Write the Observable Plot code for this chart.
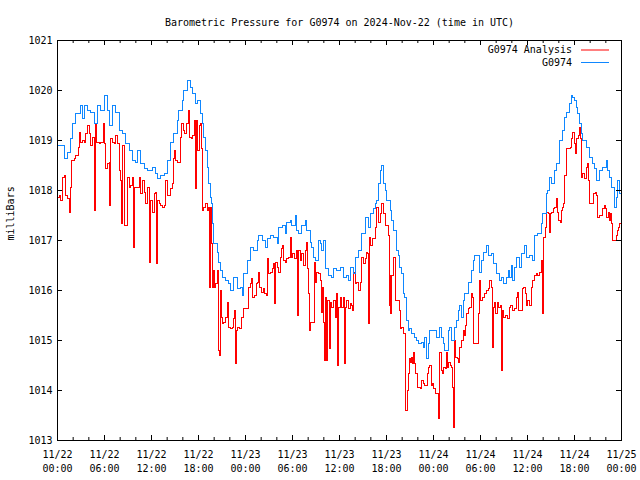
<!DOCTYPE html>
<html><head><meta charset="utf-8">
<script src="https://cdn.jsdelivr.net/npm/d3@7"></script>
<script src="https://cdn.jsdelivr.net/npm/@observablehq/plot@0.6"></script>
<style>
html,body{margin:0;padding:0;background:#fff;}
#chart svg{display:block;}
</style></head><body><div id="chart"></div>
<script>
const titleText = "Barometric Pressure for G0974 on 2024-Nov-22 (time in UTC)";
const yLabelText = "milliBars";
const seriesNames = ["G0974 Analysis", "G0974"];
const startISO = "2024-11-22T00:00:00Z";
const endISO = "2024-11-25T00:00:00Z";
const yTickValues = [1013, 1014, 1015, 1016, 1017, 1018, 1019, 1020, 1021];

// [hours since 2024-11-22 00:00 UTC, milliBars]
const analysis = [[0,1017.86],[0.22,1017.90],[0.42,1017.80],[0.64,1018.26],[0.86,1018.30],[1.06,1017.90],[1.28,1017.84],[1.49,1017.56],[1.62,1018.06],[1.79,1018.60],[2.13,1018.64],[2.34,1018.70],[2.68,1018.86],[2.77,1019.16],[2.97,1018.96],[3.19,1019.00],[3.41,1018.96],[3.61,1019.14],[3.83,1019.30],[4.05,1019.14],[4.25,1018.90],[4.47,1019.06],[4.69,1017.60],[4.81,1019.34],[5.02,1018.96],[5.32,1018.94],[5.53,1018.96],[5.83,1019.34],[5.96,1018.94],[6.17,1018.44],[6.38,1018.54],[6.60,1018.56],[6.68,1017.70],[6.80,1019.04],[7.02,1018.96],[7.24,1018.94],[7.44,1019.10],[7.66,1018.94],[7.88,1018.40],[8.08,1018.20],[8.21,1017.34],[8.30,1018.90],[8.51,1017.30],[8.81,1017.30],[8.94,1018.26],[9.15,1018.06],[9.36,1018.10],[9.57,1018.26],[9.74,1016.86],[9.87,1018.06],[10.21,1018.06],[10.43,1018.26],[10.63,1017.94],[10.85,1018.20],[11.07,1017.96],[11.27,1017.74],[11.49,1018.06],[11.71,1017.90],[11.78,1016.56],[11.91,1017.80],[12.13,1017.56],[12.34,1017.94],[12.55,1017.96],[12.68,1016.54],[12.77,1017.80],[12.98,1017.74],[13.19,1017.70],[13.40,1017.66],[13.62,1017.70],[13.83,1018.20],[14.04,1017.90],[14.26,1017.90],[14.43,1018.04],[14.64,1018.14],[14.77,1018.64],[14.94,1018.80],[15.06,1018.60],[15.28,1018.56],[15.49,1018.56],[15.70,1019.06],[15.83,1019.34],[16.05,1019.20],[16.25,1019.14],[16.47,1019.34],[16.69,1019.60],[16.85,1019.06],[17.07,1019.04],[17.27,1019.10],[17.49,1019.40],[17.62,1018.04],[17.74,1019.40],[17.87,1018.80],[18.09,1019.30],[18.26,1019.34],[18.38,1018.84],[18.47,1017.60],[18.68,1017.66],[18.89,1017.74],[19.11,1017.60],[19.32,1017.66],[19.44,1016.06],[19.53,1017.66],[19.62,1016.94],[19.75,1016.06],[19.88,1016.40],[20.00,1016.06],[20.17,1016.14],[20.39,1016.40],[20.51,1014.80],[20.68,1014.70],[20.81,1016.00],[20.94,1015.46],[21.03,1015.34],[21.23,1015.36],[21.45,1015.46],[21.66,1015.76],[21.87,1015.26],[22.09,1015.24],[22.30,1015.26],[22.51,1015.44],[22.63,1015.60],[22.72,1014.54],[22.85,1015.20],[23.02,1015.26],[23.23,1015.24],[23.45,1015.46],[23.71,1015.64],[24.22,1015.64],[24.42,1016.06],[24.64,1016.14],[24.77,1016.24],[24.89,1015.86],[25.15,1015.90],[25.40,1016.14],[25.57,1016.16],[25.70,1016.36],[25.83,1016.06],[26.00,1015.96],[26.26,1016.04],[26.43,1015.94],[26.68,1015.90],[26.77,1016.64],[26.97,1016.34],[27.19,1016.36],[27.41,1016.44],[27.61,1016.54],[27.74,1015.74],[27.87,1016.56],[28.05,1016.46],[28.25,1016.36],[28.47,1016.66],[28.60,1016.84],[28.76,1016.90],[28.89,1016.60],[29.11,1016.56],[29.27,1016.64],[29.49,1016.66],[29.71,1017.06],[29.84,1016.66],[30.04,1016.74],[30.26,1016.64],[30.47,1016.80],[30.64,1016.50],[30.68,1015.50],[30.80,1016.80],[30.98,1016.60],[31.19,1016.74],[31.40,1016.50],[31.62,1016.80],[31.75,1016.96],[31.91,1016.44],[32.04,1015.94],[32.13,1015.20],[32.26,1015.36],[32.68,1015.36],[32.77,1016.56],[32.97,1016.16],[33.10,1016.36],[33.32,1016.34],[33.54,1016.20],[33.66,1015.56],[33.83,1016.06],[33.96,1015.36],[34.09,1014.60],[34.25,1015.86],[34.38,1014.60],[34.51,1015.80],[34.68,1014.84],[34.81,1015.76],[35.02,1015.66],[35.23,1015.80],[35.45,1015.46],[35.66,1015.94],[35.74,1014.50],[35.87,1015.66],[36.09,1015.86],[36.29,1015.66],[36.51,1015.86],[36.68,1014.54],[36.81,1015.66],[36.93,1015.80],[37.15,1015.64],[37.37,1015.74],[37.57,1015.70],[37.66,1015.60],[37.79,1016.36],[38.00,1016.14],[38.21,1016.16],[38.43,1016.00],[38.64,1016.16],[38.85,1016.66],[39.06,1016.54],[39.28,1016.64],[39.49,1016.76],[39.61,1016.74],[39.74,1015.34],[39.83,1017.06],[40.00,1016.90],[40.25,1017.04],[40.56,1017.26],[40.76,1017.66],[40.98,1017.36],[41.20,1017.54],[41.40,1017.74],[41.62,1017.54],[41.83,1017.30],[42.04,1017.30],[42.26,1017.10],[42.34,1015.70],[42.47,1016.30],[42.55,1015.54],[42.68,1016.30],[42.89,1016.66],[43.11,1015.80],[43.49,1015.80],[43.70,1015.60],[43.79,1015.24],[43.91,1015.26],[44.13,1015.14],[44.34,1015.14],[44.46,1013.60],[44.64,1014.00],[44.77,1014.34],[44.90,1014.64],[45.06,1014.56],[45.19,1014.66],[45.32,1014.54],[45.48,1014.76],[45.61,1014.54],[45.74,1014.34],[45.92,1014.06],[46.17,1014.06],[46.34,1014.04],[46.47,1014.20],[46.68,1014.14],[46.89,1014.10],[47.19,1014.34],[47.40,1014.46],[47.53,1014.50],[47.71,1014.10],[47.87,1014.14],[48.04,1014.04],[48.26,1013.94],[48.60,1013.94],[48.68,1013.44],[48.81,1014.76],[49.02,1014.40],[49.15,1014.34],[49.32,1014.46],[49.49,1014.44],[49.66,1014.76],[49.79,1014.46],[49.95,1014.56],[50.17,1014.50],[50.30,1014.46],[50.43,1014.06],[50.59,1013.26],[50.72,1015.00],[50.85,1014.66],[51.03,1014.64],[51.19,1014.56],[51.36,1014.86],[51.57,1015.00],[51.79,1015.20],[51.92,1015.10],[52.09,1015.30],[52.21,1015.54],[52.43,1015.64],[52.64,1015.66],[52.85,1015.94],[52.98,1015.86],[53.07,1014.94],[53.49,1014.94],[53.71,1015.54],[53.83,1016.20],[54.00,1015.80],[54.26,1015.86],[54.55,1015.94],[54.77,1016.00],[54.98,1016.04],[55.19,1016.20],[55.41,1016.06],[55.53,1014.86],[55.62,1015.66],[55.83,1015.76],[55.96,1015.54],[56.13,1015.76],[56.34,1015.66],[56.55,1015.70],[56.68,1014.40],[56.81,1015.60],[56.98,1015.46],[57.23,1015.50],[57.41,1015.44],[57.66,1015.66],[57.79,1015.70],[58.04,1015.60],[58.34,1015.64],[58.63,1015.86],[58.76,1015.96],[58.89,1015.60],[59.19,1015.60],[59.32,1016.04],[59.53,1016.06],[59.70,1015.94],[59.83,1015.70],[60.04,1015.80],[60.26,1015.70],[60.47,1016.06],[60.68,1016.20],[60.89,1016.30],[61.11,1016.34],[61.32,1016.30],[61.53,1016.36],[61.75,1016.60],[61.91,1015.54],[62.00,1016.64],[62.08,1017.06],[62.30,1017.26],[62.46,1017.56],[62.68,1017.54],[62.81,1017.16],[62.90,1017.54],[63.10,1017.56],[63.32,1017.64],[63.49,1017.66],[63.66,1017.84],[63.79,1017.56],[64.00,1017.40],[64.21,1017.36],[64.30,1017.60],[64.51,1017.66],[64.63,1017.74],[64.72,1018.30],[64.94,1018.84],[65.27,1018.84],[65.49,1018.86],[65.65,1019.04],[65.78,1019.16],[66.00,1018.94],[66.13,1018.74],[66.29,1019.04],[66.55,1019.10],[66.68,1019.26],[66.77,1019.04],[66.86,1018.26],[67.06,1018.34],[67.28,1018.24],[67.49,1018.46],[67.70,1018.54],[67.79,1018.20],[67.91,1017.74],[68.26,1017.74],[68.47,1017.94],[68.68,1017.96],[68.85,1017.90],[68.89,1017.46],[69.19,1017.50],[69.53,1017.64],[69.79,1017.70],[69.96,1017.64],[70.12,1017.46],[70.30,1017.56],[70.47,1017.40],[70.64,1017.54],[70.72,1017.34],[70.89,1017.00],[71.11,1017.00],[71.32,1017.10],[71.45,1017.20],[71.62,1017.26],[71.74,1017.34],[71.96,1017.26]];

const station = [[0,1018.90],[0.89,1018.64],[1.28,1018.76],[1.66,1019.04],[1.91,1019.34],[2.34,1019.54],[2.97,1019.70],[3.19,1019.44],[3.45,1019.70],[3.83,1019.60],[4.21,1019.56],[4.69,1019.34],[5.11,1019.70],[5.49,1019.60],[5.96,1019.90],[6.38,1019.60],[6.60,1019.30],[7.02,1019.70],[7.40,1019.56],[7.88,1019.20],[8.30,1019.14],[8.72,1018.94],[9.15,1018.80],[9.57,1018.60],[10.00,1018.56],[10.21,1018.80],[10.63,1018.54],[11.07,1018.44],[11.49,1018.40],[12.13,1018.46],[12.55,1018.34],[12.77,1018.24],[13.19,1018.30],[13.62,1018.34],[14.04,1018.60],[14.43,1018.96],[14.85,1019.14],[15.28,1019.40],[15.49,1019.60],[15.92,1019.80],[16.12,1020.00],[16.56,1020.20],[16.76,1020.20],[16.98,1020.06],[17.20,1019.94],[17.62,1019.74],[17.83,1019.80],[18.26,1019.54],[18.47,1019.34],[18.68,1019.06],[18.89,1018.80],[19.11,1018.46],[19.32,1018.14],[19.53,1017.86],[19.62,1017.74],[19.75,1017.34],[19.95,1016.94],[20.39,1016.76],[20.59,1016.56],[20.81,1016.40],[21.03,1016.26],[21.45,1016.20],[21.87,1016.14],[22.09,1016.00],[22.51,1016.26],[22.94,1016.04],[23.36,1016.06],[23.58,1015.90],[23.78,1016.34],[24.22,1016.60],[24.64,1016.86],[25.06,1016.80],[25.49,1017.00],[25.70,1017.10],[26.13,1017.00],[26.55,1016.86],[26.77,1017.04],[27.19,1017.10],[27.61,1017.06],[28.05,1016.94],[28.25,1017.26],[28.69,1017.30],[29.11,1017.14],[29.27,1017.36],[29.71,1017.40],[29.91,1017.30],[30.34,1017.50],[30.55,1017.20],[30.77,1017.14],[31.19,1017.30],[31.62,1017.40],[31.83,1017.20],[32.26,1016.96],[32.46,1016.86],[32.68,1016.66],[32.90,1016.60],[33.32,1017.00],[33.54,1016.94],[33.74,1016.80],[33.96,1017.00],[34.17,1016.44],[34.60,1016.30],[35.02,1016.26],[35.23,1016.44],[35.66,1016.40],[36.09,1016.46],[36.51,1016.26],[36.93,1016.30],[37.15,1016.20],[37.37,1016.46],[37.79,1016.34],[38.00,1016.66],[38.43,1016.80],[38.85,1017.14],[39.28,1017.46],[39.70,1017.26],[39.92,1017.54],[40.34,1017.64],[40.56,1017.74],[40.76,1017.80],[40.98,1018.14],[41.20,1018.40],[41.32,1018.50],[41.62,1018.14],[41.83,1018.00],[42.04,1017.80],[42.47,1017.60],[42.68,1017.40],[42.89,1017.20],[43.32,1016.80],[43.53,1016.70],[43.70,1016.46],[43.91,1016.34],[44.13,1015.94],[44.34,1015.86],[44.55,1015.40],[44.77,1015.20],[44.97,1015.24],[45.19,1015.14],[45.61,1015.06],[45.83,1015.00],[46.05,1014.94],[46.47,1014.96],[46.68,1014.86],[46.89,1015.06],[47.11,1014.64],[47.32,1014.94],[47.53,1015.20],[47.96,1015.20],[48.38,1015.06],[48.81,1015.26],[49.02,1015.06],[49.24,1014.94],[49.44,1014.80],[49.88,1015.20],[50.08,1015.26],[50.30,1015.00],[50.72,1015.26],[50.94,1015.40],[51.15,1015.60],[51.36,1015.70],[51.57,1015.46],[51.79,1015.80],[52.00,1015.94],[52.43,1016.16],[52.85,1016.40],[53.07,1016.60],[53.27,1016.70],[53.71,1016.70],[53.91,1016.36],[54.13,1016.60],[54.35,1016.76],[54.77,1016.90],[54.98,1016.70],[55.41,1016.74],[55.62,1016.54],[56.04,1016.34],[56.46,1016.20],[56.68,1016.26],[56.90,1016.14],[57.32,1016.26],[57.54,1016.40],[57.74,1016.26],[57.96,1016.50],[58.14,1016.20],[58.34,1016.46],[58.56,1016.66],[58.98,1016.46],[59.19,1016.74],[59.62,1016.90],[59.83,1016.66],[60.26,1016.70],[60.68,1016.60],[60.89,1017.10],[61.32,1017.14],[61.75,1017.34],[61.95,1017.54],[62.39,1017.94],[62.59,1018.00],[62.81,1018.26],[63.03,1018.14],[63.45,1018.40],[63.66,1018.54],[64.09,1019.00],[64.51,1019.20],[64.72,1019.46],[64.94,1019.56],[65.36,1019.74],[65.58,1019.90],[65.78,1019.86],[66.00,1019.80],[66.22,1019.66],[66.42,1019.54],[66.64,1019.34],[66.86,1019.14],[67.06,1019.00],[67.49,1018.86],[67.91,1018.66],[68.34,1018.54],[68.55,1018.44],[68.77,1018.20],[69.19,1018.40],[69.61,1018.46],[70.04,1018.60],[70.25,1018.40],[70.47,1018.26],[70.68,1018.06],[71.11,1017.66],[71.32,1017.86],[71.53,1018.20],[71.74,1017.94],[71.96,1018.00]];

// ---- presentation ----
const colors = {analysis: "#ff0000", station: "#0f87ff"};
const W = 640, H = 480, mL = 57, mR = 19, mT = 40, mB = 40;
const fw = W - mL - mR, fh = H - mT - mB;
const majorLen = 5, minorLen = 3;
const font = "'DejaVu Sans Mono', 'Liberation Mono', monospace";

const t0 = new Date(startISO), t1 = new Date(endISO);
const toDate = h => new Date(t0.getTime() + h * 3600e3);
const analysisRows = analysis.map(([h, p]) => ({t: toDate(h), p}));
const stationRows = station.map(([h, p]) => ({t: toDate(h), p}));

const majorX = d3.utcHour.every(6).range(t0, new Date(t1.getTime() + 1));
const minorX = d3.utcHour.every(2).range(t0, new Date(t1.getTime() + 1));
const fmt = d3.utcFormat("%m/%d\n%H:%M");

const chart = Plot.plot({
  width: W, height: H,
  marginLeft: mL, marginRight: mR, marginTop: mT, marginBottom: mB,
  style: {fontFamily: font, fontSize: "10px", color: "black", background: "white"},
  x: {type: "utc", domain: [t0, t1]},
  y: {domain: [1013, 1021]},
  marks: [
    Plot.axisX(majorX, {tickSize: 0, tickPadding: 8, tickFormat: fmt, label: null, lineHeight: 1.4, fontSize: 10}),
    Plot.axisY(yTickValues, {tickSize: 0, tickPadding: 5, tickFormat: d => String(d), label: null, fontSize: 10}),
    Plot.line(analysisRows, {x: "t", y: "p", stroke: colors.analysis, strokeWidth: 1, curve: "step-after", shapeRendering: "crispEdges"}),
    Plot.line(stationRows, {x: "t", y: "p", stroke: colors.station, strokeWidth: 1, curve: "step-after", shapeRendering: "crispEdges"}),
    Plot.tickX(minorX, {x: d => d, insetTop: fh - minorLen, stroke: "black"}),
    Plot.tickX(minorX, {x: d => d, insetBottom: fh - minorLen, stroke: "black"}),
    Plot.tickX(majorX, {x: d => d, insetTop: fh - majorLen, stroke: "black"}),
    Plot.tickX(majorX, {x: d => d, insetBottom: fh - majorLen, stroke: "black"}),
    Plot.tickY(yTickValues, {y: d => d, insetRight: fw - majorLen, stroke: "black"}),
    Plot.tickY(yTickValues, {y: d => d, insetLeft: fw - majorLen, stroke: "black"}),
    Plot.frame({stroke: "black"}),
    Plot.text([titleText], {text: d => d, frameAnchor: "top", dy: -22, fontSize: 10}),
    Plot.text([yLabelText], {text: d => d, frameAnchor: "left", rotate: -90, dx: -47, fontSize: 10})
  ]
});
document.getElementById("chart").appendChild(chart);

// legend (labels + swatches) in the top-right corner of the frame
const svg = d3.select(chart);
const lg = svg.append("g").attr("font-family", font).attr("font-size", 10);
const legendColors = [colors.analysis, colors.station];
seriesNames.forEach((name, i) => {
  const y = mT + 10 + i * 12.5;
  lg.append("line").attr("x1", W - mR - 40).attr("x2", W - mR - 12)
    .attr("y1", y).attr("y2", y).attr("stroke", legendColors[i]).attr("stroke-width", 1);
  lg.append("text").attr("x", W - mR - 49).attr("y", y).attr("dy", "0.32em")
    .attr("text-anchor", "end").text(name);
});
</script></body></html>
